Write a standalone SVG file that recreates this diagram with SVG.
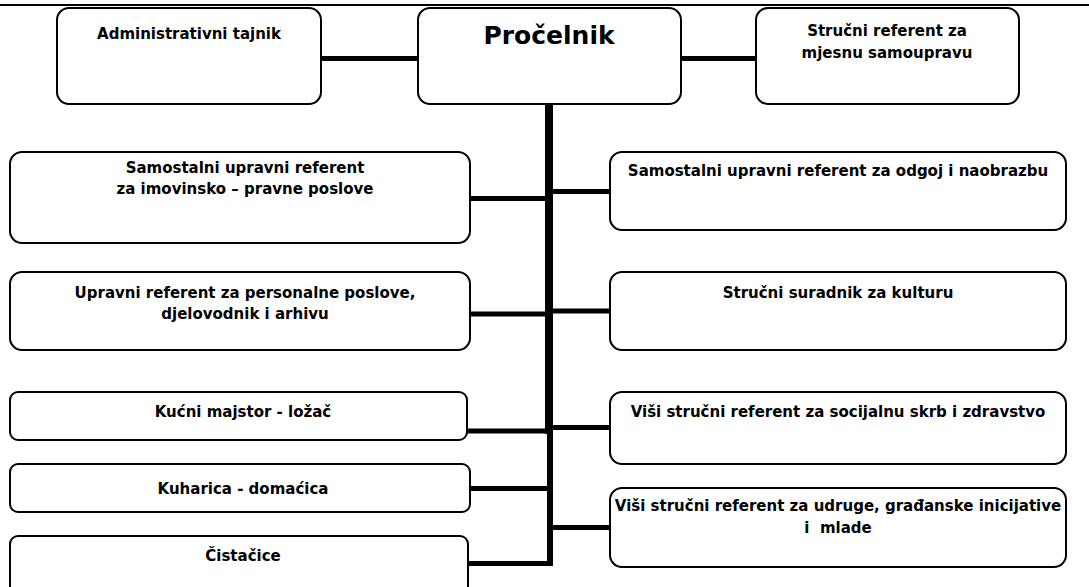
<svg xmlns="http://www.w3.org/2000/svg" width="1089" height="587" viewBox="0 0 1089 587">
<style>
.box{fill:#fff;stroke:#000;stroke-width:2}
.t{font-family:"DejaVu Sans",Verdana,sans-serif;font-weight:bold;font-size:15px;fill:#000;text-anchor:middle}
.big{font-size:25px}
.c{stroke:#000;fill:none}
</style>
<rect width="1089" height="587" fill="#fff"/>
<line x1="0" y1="5" x2="1089" y2="5" stroke="#000" stroke-width="2"/>
<g id="connectors">
<line class="c" x1="321" y1="58.5" x2="418" y2="58.5" stroke-width="5"/>
<line class="c" x1="681" y1="58.5" x2="756" y2="58.5" stroke-width="5"/>
<rect x="545" y="104" width="8" height="330" fill="#000"/>
<rect x="547" y="430" width="6" height="136" fill="#000"/>
<line class="c" x1="470" y1="198.5" x2="546" y2="198.5" stroke-width="5"/>
<line class="c" x1="552" y1="191.5" x2="610" y2="191.5" stroke-width="5"/>
<line class="c" x1="470" y1="314" x2="546" y2="314" stroke-width="5"/>
<line class="c" x1="552" y1="311" x2="610" y2="311" stroke-width="5"/>
<line class="c" x1="467" y1="431" x2="548" y2="431" stroke-width="5"/>
<line class="c" x1="552" y1="427.5" x2="610" y2="427.5" stroke-width="5"/>
<line class="c" x1="470" y1="488.5" x2="548" y2="488.5" stroke-width="5"/>
<line class="c" x1="552" y1="527.5" x2="610" y2="527.5" stroke-width="5"/>
<line class="c" x1="468" y1="563.5" x2="553" y2="563.5" stroke-width="5"/>
</g>
<g id="admin">
<rect class="box" x="57" y="8" width="264" height="96" rx="12"/>
<text class="t" x="189" y="39">Administrativni tajnik</text>
</g>
<g id="procelnik">
<rect class="box" x="418" y="8" width="263" height="96" rx="12"/>
<text class="t big" x="549" y="44">Pročelnik</text>
</g>
<g id="mjesna">
<rect class="box" x="756" y="8" width="263" height="96" rx="12"/>
<text class="t" x="887" y="36">Stručni referent za</text>
<text class="t" x="887" y="58">mjesnu samoupravu</text>
</g>
<g id="imovinsko">
<rect class="box" x="10" y="152" width="460" height="91" rx="12"/>
<text class="t" x="245" y="173">Samostalni upravni referent</text>
<text class="t" x="245" y="194">za imovinsko – pravne poslove</text>
</g>
<g id="odgoj">
<rect class="box" x="610" y="152" width="456" height="78" rx="12"/>
<text class="t" x="838" y="176">Samostalni upravni referent za odgoj i naobrazbu</text>
</g>
<g id="personalne">
<rect class="box" x="10" y="272" width="460" height="78" rx="12"/>
<text class="t" x="245" y="298">Upravni referent za personalne poslove,</text>
<text class="t" x="245" y="319">djelovodnik i arhivu</text>
</g>
<g id="kultura">
<rect class="box" x="610" y="272" width="456" height="78" rx="12"/>
<text class="t" x="838" y="298">Stručni suradnik za kulturu</text>
</g>
<g id="kucni">
<rect class="box" x="10" y="392" width="457" height="48" rx="8"/>
<text class="t" x="243" y="417">Kućni majstor - ložač</text>
</g>
<g id="socijalna">
<rect class="box" x="610" y="392" width="456" height="72" rx="12"/>
<text class="t" x="838" y="417">Viši stručni referent za socijalnu skrb i zdravstvo</text>
</g>
<g id="kuharica">
<rect class="box" x="10" y="464" width="460" height="48" rx="8"/>
<text class="t" x="243" y="494">Kuharica - domaćica</text>
</g>
<g id="udruge">
<rect class="box" x="610" y="488" width="456" height="79" rx="12"/>
<text class="t" x="838" y="511">Viši stručni referent za udruge, građanske inicijative</text>
<text class="t" x="838" y="533" style="white-space:pre">i  mlade</text>
</g>
<g id="cistacice">
<rect class="box" x="10" y="536" width="458" height="70" rx="8"/>
<text class="t" x="243" y="561">Čistačice</text>
</g>
</svg>
